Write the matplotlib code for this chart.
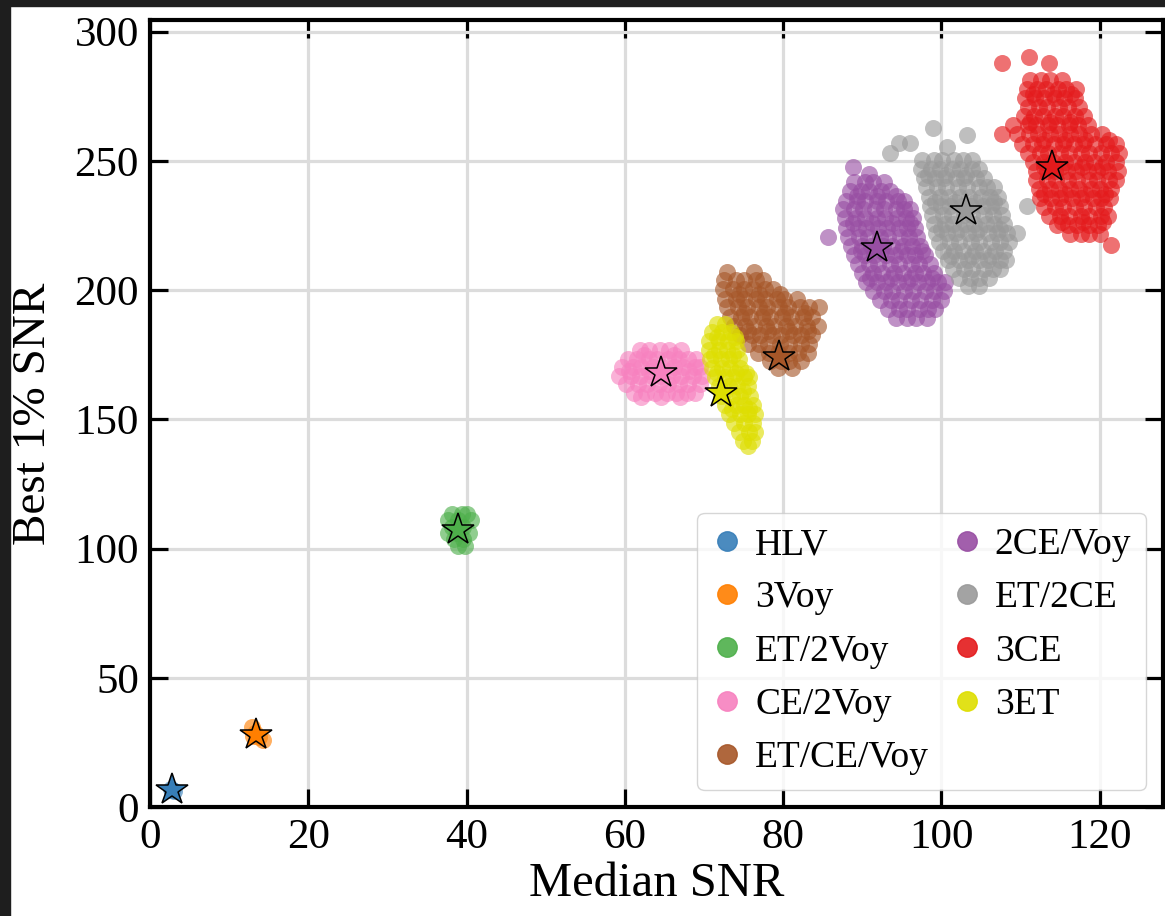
import matplotlib
matplotlib.use("Agg")
import matplotlib.pyplot as plt
from matplotlib.lines import Line2D
from matplotlib.patches import Rectangle

plt.rcParams['font.family'] = ['Liberation Serif', 'DejaVu Serif']
plt.rcParams['mathtext.fontset'] = 'stix'

names = ["HLV", "3Voy", "ET/2Voy", "CE/2Voy", "ET/CE/Voy",
         "2CE/Voy", "ET/2CE", "3CE", "3ET"]
colors = ['#377eb8', '#ff7f00', '#4daf4a', '#f781bf', '#a65628',
          '#984ea3', '#999999', '#e41a1c', '#dede00']

# star = network for the fiducial configuration
star_x = [2.8, 13.4, 38.9, 64.6, 79.5, 91.8, 103.1, 114.0, 72.2]
star_y = [6.5, 27.8, 107.0, 168.0, 174.2, 216.2, 230.4, 247.8, 160.0]

# clouds: (best 1% SNR, [median SNR, ...]) rows
hlv_rows = [(7.0, [2.6]), (6.5, [2.8]), (6.2, [3.0])]
voy3_rows = [(30.8, [12.9]), (28.5, [13.3]), (27.5, [13.0]), (27.0, [13.8]),
             (26.0, [14.3])]
et2voy_rows = [(113.5, [38.1, 39.4, 40.1]),
               (111.0, [37.6, 38.9, 40.6]),
               (108.5, [38.2, 39.6]),
               (106.0, [37.7, 38.8, 40.3]),
               (103.5, [38.4, 39.5]),
               (101.0, [38.9, 39.8])]
ce2voy_rows = [(177.0, [61.9, 63.0, 64.5, 65.6, 67.1]),
               (175.0, [62.4, 66.2]),
               (173.4, [60.4, 61.5, 63.0, 64.1, 65.4, 66.9, 68.0, 69.0]),
               (170.2, [59.6, 61.0, 62.1, 63.6, 64.7, 66.2, 67.3, 68.8, 69.5]),
               (168.5, [60.5, 63.0, 65.6, 68.1]),
               (166.8, [59.3, 60.8, 61.9, 63.4, 64.5, 66.0, 67.1, 68.6, 69.8]),
               (163.6, [60.2, 61.7, 62.8, 64.3, 65.4, 66.9, 68.0, 69.5]),
               (160.2, [61.2, 62.7, 63.8, 65.3, 66.4, 67.9, 68.9]),
               (158.5, [62.0, 64.6, 67.0])]
etcevoy_rows = [(207.0, [72.9, 76.3]),
                (203.8, [72.5, 74.0, 75.1, 76.6, 77.5]),
                (200.5, [72.4, 73.6, 75.1, 76.2, 77.7, 78.7]),
                (198.5, [74.4, 76.9, 79.6]),
                (196.5, [72.6, 74.0, 75.1, 76.6, 77.7, 79.2, 80.1, 81.8]),
                (193.3, [72.9, 74.3, 75.4, 76.9, 78.0, 79.5, 80.6, 82.1, 83.3, 84.5]),
                (191.0, [75.0, 77.6, 80.2, 82.7]),
                (189.5, [73.3, 74.7, 75.8, 77.3, 78.4, 79.9, 81.0, 82.5, 83.6]),
                (186.2, [73.8, 75.2, 76.3, 77.8, 78.9, 80.4, 81.5, 83.0, 84.4]),
                (184.0, [75.5, 78.1, 80.8, 83.2]),
                (182.5, [74.6, 76.0, 77.1, 78.6, 79.7, 81.2, 82.3, 83.6]),
                (179.0, [75.6, 77.0, 78.1, 79.6, 80.7, 82.2, 83.3]),
                (175.8, [76.8, 78.2, 79.3, 80.8, 81.9, 83.1]),
                (172.5, [78.3, 79.7, 80.8, 82.2]),
                (170.0, [79.4, 81.1])]
ce2voy2_rows = [(247.5, [88.8]), (245.0, [90.9]),
                (242.0, [88.9, 90.3, 91.4, 92.8]),
                (238.5, [88.4, 89.8, 90.9, 92.4, 93.5]),
                (236.5, [89.3, 91.8, 94.3]),
                (234.5, [87.9, 89.3, 90.4, 91.9, 93.0, 94.5, 95.3]),
                (231.2, [87.6, 89.0, 90.1, 91.6, 92.7, 94.2, 95.3, 96.0]),
                (227.8, [87.8, 89.2, 90.3, 91.8, 92.9, 94.4, 95.5, 96.4]),
                (225.8, [88.8, 91.2, 93.7, 96.0]),
                (224.0, [88.0, 89.4, 90.5, 92.0, 93.1, 94.6, 95.7, 96.6]),
                (220.7, [85.7, 88.2, 89.6, 90.7, 92.2, 93.3, 94.8, 95.9, 96.9]),
                (217.2, [88.6, 90.0, 91.1, 92.6, 93.7, 95.2, 96.3, 97.3]),
                (215.0, [89.8, 92.4, 94.9, 97.5]),
                (213.7, [89.0, 90.4, 91.5, 93.0, 94.1, 95.6, 96.7, 97.9]),
                (210.2, [89.5, 90.9, 92.0, 93.5, 94.6, 96.1, 97.2, 98.6]),
                (206.7, [90.0, 91.4, 92.5, 94.0, 95.1, 96.6, 97.7, 99.1]),
                (204.8, [91.0, 93.6, 96.2, 98.8]),
                (203.2, [90.5, 91.9, 93.0, 94.5, 95.6, 97.1, 98.2, 99.6, 100.4]),
                (199.7, [91.3, 92.7, 93.8, 95.3, 96.4, 97.9, 99.0, 100.3]),
                (196.2, [92.2, 93.6, 94.7, 96.2, 97.3, 98.8, 99.9]),
                (192.7, [93.2, 94.6, 95.7, 97.2, 98.3, 99.2]),
                (189.2, [94.3, 95.7, 96.8, 98.2])]
et2ce_rows = [(262.7, [98.9]), (260.0, [103.2]), (256.8, [94.7, 96.0]),
              (255.4, [100.7]), (253.0, [93.5]),
              (250.2, [97.6, 99.0, 100.1, 101.6, 102.7, 103.8]),
              (246.7, [97.4, 98.7, 99.8, 101.3, 102.4, 103.9, 104.8]),
              (244.5, [98.3, 100.6, 103.1]),
              (243.2, [97.8, 99.2, 100.3, 101.8, 102.9, 104.4, 105.4]),
              (239.7, [98.1, 99.5, 100.6, 102.1, 103.2, 104.7, 105.8, 106.6]),
              (236.2, [98.4, 99.8, 100.9, 102.4, 103.5, 105.0, 106.1, 107.1]),
              (234.0, [99.2, 101.7, 104.2, 106.6]),
              (232.7, [98.6, 100.0, 101.1, 102.6, 103.7, 105.2, 106.3, 107.4, 110.8]),
              (229.2, [98.8, 100.2, 101.3, 102.8, 103.9, 105.4, 106.5, 107.7]),
              (225.7, [99.0, 100.4, 101.5, 103.0, 104.1, 105.6, 106.7, 107.9]),
              (223.5, [99.9, 102.3, 104.8, 107.4]),
              (222.2, [99.3, 100.7, 101.8, 103.3, 104.4, 105.9, 107.0, 108.3, 109.5]),
              (218.7, [99.7, 101.1, 102.2, 103.7, 104.8, 106.3, 107.4, 108.5]),
              (215.2, [100.2, 101.6, 102.7, 104.2, 105.3, 106.8, 107.9]),
              (213.0, [101.2, 103.8, 106.3]),
              (211.7, [100.8, 102.2, 103.3, 104.8, 105.9, 107.4, 108.1]),
              (208.2, [101.4, 102.8, 103.9, 105.4, 106.5, 107.4]),
              (204.7, [102.2, 103.6, 104.7, 106.0]),
              (201.5, [103.4, 104.8])]
ce3_rows = [(290.0, [111.1]), (288.0, [107.7, 113.6]),
            (281.2, [111.2, 112.6, 113.7, 115.2]),
            (277.7, [110.8, 112.1, 113.2, 114.7, 115.8, 117.0]),
            (275.8, [111.6, 114.1, 116.4]),
            (274.2, [110.5, 111.8, 112.9, 114.4, 115.5, 116.9]),
            (270.7, [110.9, 112.3, 113.4, 114.9, 116.0, 117.4]),
            (267.2, [110.4, 111.7, 112.8, 114.3, 115.4, 116.9, 118.0]),
            (265.0, [111.2, 113.7, 116.2]),
            (263.7, [109.0, 110.9, 112.0, 113.5, 114.6, 116.1, 117.2, 118.5]),
            (260.2, [107.7, 109.6, 111.1, 112.2, 113.7, 114.8, 116.3, 117.4, 118.9, 120.3]),
            (258.0, [112.9, 115.6, 118.2, 121.2]),
            (256.7, [110.2, 111.6, 112.7, 114.2, 115.3, 116.8, 117.9, 119.4, 120.8, 122.0]),
            (253.2, [111.0, 112.4, 113.5, 115.0, 116.1, 117.6, 118.7, 120.2, 121.4, 122.4]),
            (249.7, [111.6, 113.0, 114.1, 115.6, 116.7, 118.2, 119.3, 120.8, 122.0]),
            (247.8, [112.9, 115.1, 117.7, 120.3]),
            (246.2, [111.9, 113.3, 114.4, 115.9, 117.0, 118.5, 119.6, 121.1, 122.3]),
            (242.7, [112.0, 113.4, 114.5, 116.0, 117.1, 118.6, 119.7, 121.2, 122.0]),
            (239.2, [112.3, 113.7, 114.8, 116.3, 117.4, 118.9, 120.0, 121.4]),
            (237.0, [113.0, 115.6, 118.1, 120.7]),
            (235.7, [112.5, 113.9, 115.0, 116.5, 117.6, 119.1, 120.2, 121.3]),
            (232.2, [112.9, 114.3, 115.4, 116.9, 118.0, 119.5, 120.6]),
            (228.7, [113.6, 115.0, 116.1, 117.6, 118.7, 120.2, 121.0]),
            (226.5, [115.2, 117.9, 120.4]),
            (225.2, [114.6, 116.0, 117.1, 118.6, 119.8]),
            (221.7, [116.2, 117.6, 118.7, 120.0]),
            (217.5, [121.4])]
et3_rows = [(187.0, [71.7, 72.7]),
            (183.7, [71.0, 72.3, 73.4]),
            (181.8, [71.6, 73.9]),
            (180.2, [70.6, 71.9, 73.0, 74.0]),
            (176.7, [70.6, 71.9, 72.9, 74.2]),
            (174.8, [71.3, 73.6]),
            (173.2, [70.8, 72.1, 73.1, 74.4]),
            (169.7, [71.0, 72.3, 73.3, 74.6]),
            (167.8, [71.7, 74.0, 75.3]),
            (166.2, [71.4, 72.7, 73.7, 75.0, 75.7]),
            (162.7, [71.9, 73.2, 74.2, 75.5]),
            (161.0, [72.6, 74.9]),
            (159.2, [72.2, 73.5, 74.5, 75.8]),
            (155.7, [72.7, 74.0, 75.0, 76.2]),
            (153.8, [73.5, 75.7]),
            (152.2, [73.2, 74.5, 75.5, 76.4]),
            (148.7, [73.8, 75.1, 76.2]),
            (145.2, [74.4, 75.7, 76.5]),
            (141.7, [74.9, 76.0]),
            (139.5, [75.6])]

clouds = [hlv_rows, voy3_rows, et2voy_rows, ce2voy_rows, etcevoy_rows,
          ce2voy2_rows, et2ce_rows, ce3_rows, et3_rows]


def unpack(rows):
    xs, ys = [], []
    for y, row in rows:
        for x in row:
            xs.append(x)
            ys.append(y)
    return xs, ys


fig = plt.figure(figsize=(11.65, 9.16), dpi=100)
ax = fig.add_axes([0.1288, 0.119, 0.9983 - 0.1288, 0.9782 - 0.119])

for rows, c in zip(clouds, colors):
    xs, ys = unpack(rows)
    ax.scatter(xs, ys, s=150, color=c, alpha=0.62, linewidths=0, zorder=2)

for x, y, c in zip(star_x, star_y, colors):
    ax.plot([x], [y], marker='*', ms=24, mfc=c, mec='black', mew=1.1,
            ls='', zorder=4)

ax.set_xlim(0, 128)
ax.set_ylim(0, 304.5)
ax.set_xticks(range(0, 121, 20))
ax.set_yticks(range(0, 301, 50))
ax.grid(True, color='#dcdcdc', lw=2.3, zorder=0)
ax.set_axisbelow(True)
ax.tick_params(direction='in', length=13, width=2.3, labelsize=31, pad=8,
               top=True, right=True)
for sp in ax.spines.values():
    sp.set_linewidth(3)
ax.set_xlabel('Median SNR', fontsize=35, labelpad=4)
ax.set_ylabel('Best 1% SNR', fontsize=34, labelpad=14)

handles = [Line2D([], [], marker='o', ls='', color=c, ms=14, alpha=0.9)
           for c in colors]
ax.legend(handles, names, ncol=2, loc='lower right', fontsize=27,
          handlelength=0.8, handletextpad=0.35, columnspacing=0.6,
          labelspacing=0.5, borderpad=0.4, borderaxespad=0.45)

# dark screenshot border
fig.patches.append(Rectangle((0, 1 - 6 / 916), 1, 6 / 916,
                             transform=fig.transFigure, color='#1e1e1e'))
fig.patches.append(Rectangle((0, 0), 10 / 1165, 1,
                             transform=fig.transFigure, color='#1e1e1e'))

fig.savefig('out.png', dpi=100)
